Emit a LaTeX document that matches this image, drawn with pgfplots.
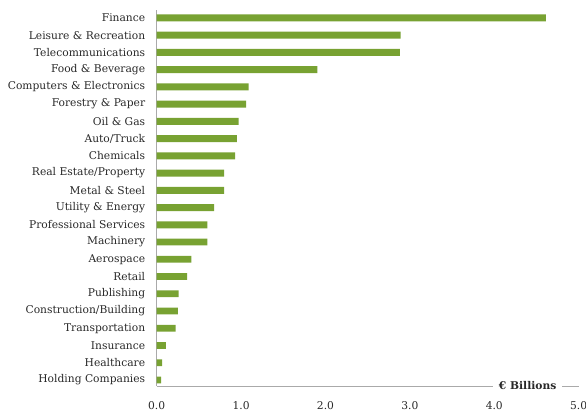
\documentclass[border=0pt]{standalone}
\usepackage{fontspec}
\setmainfont{DejaVu Serif}
\usepackage{pgfplots}
\pgfplotsset{compat=1.18}

\definecolor{bargreen}{RGB}{120,162,50}
\definecolor{axisgray}{RGB}{170,170,170}
\definecolor{txt}{RGB}{40,40,40}

\begin{document}
\begin{tikzpicture}[font=\fontsize{10.7}{12.5}\selectfont]
\begin{axis}[
    scale only axis,
    width=422pt, height=376pt,
    xbar, bar width=0.4,
    xmin=0, xmax=5,
    ymin=-0.35, ymax=21.46,
    axis lines*=left,
    axis line style={draw=axisgray, line width=0.8pt},
    major tick length=0pt,
    xtick={0,1,2,3,4,5},
    xticklabels={0.0,1.0,2.0,3.0,4.0,5.0},
    ytick={0,...,21},
    yticklabels={Holding Companies, Healthcare, Insurance, Transportation,
        Construction/Building, Publishing, Retail, Aerospace, Machinery,
        Professional Services, Utility \& Energy, Metal \& Steel,
        Real Estate/Property, Chemicals, Auto/Truck, Oil \& Gas,
        Forestry \& Paper, Computers \& Electronics, Food \& Beverage,
        Telecommunications, Leisure \& Recreation, Finance},
    tick label style={text=txt},
    y tick label style={xshift=-8pt},
    x tick label style={yshift=-12pt},
]
\addplot[fill=bargreen, draw=none] coordinates {
    (0.052,0) (0.064,1) (0.11,2) (0.225,3) (0.25,4) (0.26,5)
    (0.36,6) (0.41,7) (0.60,8) (0.60,9) (0.68,10) (0.80,11)
    (0.80,12) (0.93,13) (0.95,14) (0.97,15) (1.06,16) (1.09,17)
    (1.905,18) (2.88,19) (2.89,20) (4.61,21)
};
\coordinate (lab) at (rel axis cs:0.879,0);
\coordinate (o) at (rel axis cs:0,0);
\end{axis}
\node[fill=white, inner xsep=6pt, inner ysep=1pt, text=txt, font=\fontsize{10.7}{12.5}\selectfont\bfseries] at (lab) {€ Billions};
\pgfresetboundingbox
\path[use as bounding box] ([shift={(-156.7pt,-26pt)}]o) rectangle ([shift={(429.3pt,386pt)}]o);
\end{tikzpicture}
\end{document}
